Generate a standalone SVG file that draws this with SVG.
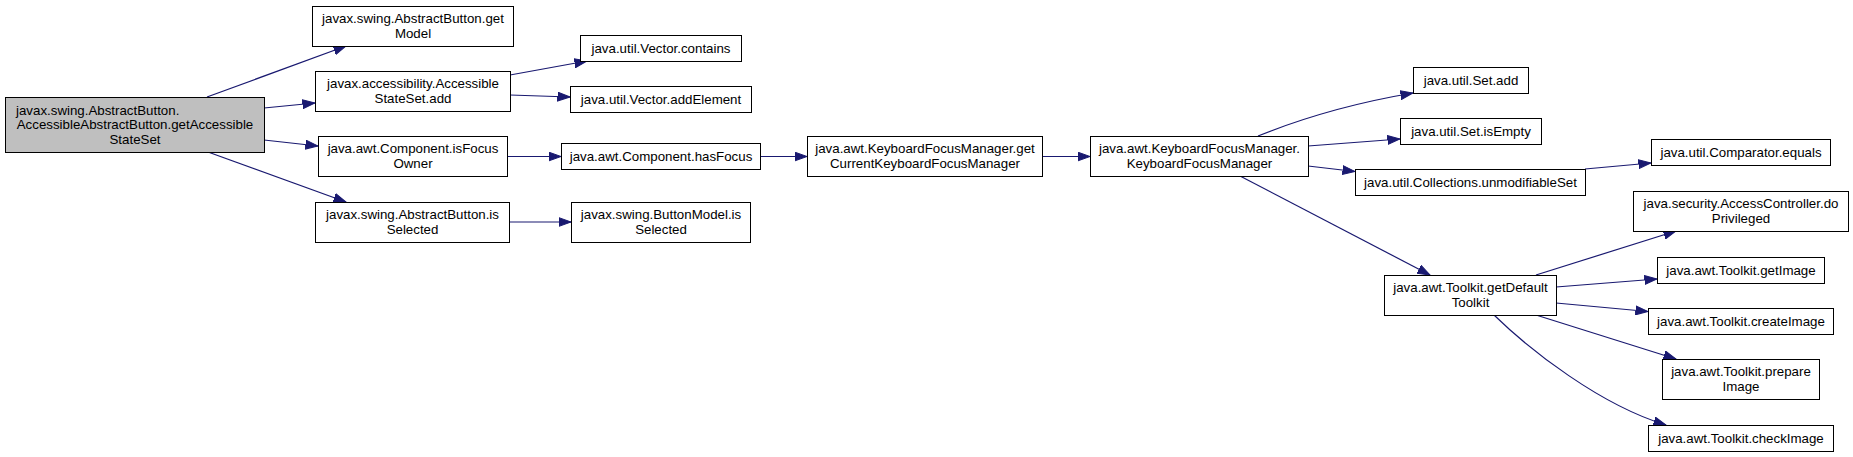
<svg xmlns="http://www.w3.org/2000/svg" width="1853" height="457" viewBox="0 0 1853 457">
<style>
.n rect{fill:#ffffff;stroke:#000000;stroke-width:1}
.n.root rect{fill:#bfbfbf}
.n text{font-family:"Liberation Sans",Arial,sans-serif;font-size:13.3px;fill:#000000;text-anchor:middle}
.e path{fill:none;stroke:#191970;stroke-width:1.2;marker-end:url(#arr)}
</style>
<defs>
<marker id="arr" markerWidth="13" markerHeight="10" refX="12.5" refY="5" orient="auto" markerUnits="userSpaceOnUse">
<path d="M0,0.5 L12.5,5 L0,9.5 z" fill="#191970" stroke="#191970" stroke-width="1"/>
</marker>
</defs>
<rect x="0" y="0" width="1853" height="457" fill="#ffffff"/>
<g id="edges" class="e">
<path d="M207,97 L346,46"/>
<path d="M264,108 L315,103"/>
<path d="M264,140 L318,146"/>
<path d="M208,152 L346,202"/>
<path d="M510,75 L587,61"/>
<path d="M510,95 L570,97"/>
<path d="M507,156.5 L561,156.5"/>
<path d="M760,156.5 L807,156.5"/>
<path d="M509,222 L571,222"/>
<path d="M1042,156.5 L1090,156.5"/>
<path d="M1258,136 C1305,117 1360,102 1413,93"/>
<path d="M1308,146 L1400,139"/>
<path d="M1308,166 L1355,171.5"/>
<path d="M1585,169 L1651,163"/>
<path d="M1240,176 L1430,275"/>
<path d="M1536,275 L1676,231"/>
<path d="M1556,287 L1657,279"/>
<path d="M1556,303 L1648,311.5"/>
<path d="M1536,315 L1676,359"/>
<path d="M1494,315 C1530,350 1600,405 1666,425"/>
</g>
<g id="n_root" class="n root">
<rect x="5.5" y="97.5" width="259" height="55"/>
<text x="16" y="114.5" style="text-anchor:start">javax.swing.AbstractButton.</text>
<text x="135" y="129">AccessibleAbstractButton.getAccessible</text>
<text x="135" y="143.5">StateSet</text>
</g>
<g id="n_getModel" class="n">
<rect x="312.5" y="6.5" width="201" height="40"/>
<text x="413" y="23">javax.swing.AbstractButton.get</text>
<text x="413" y="37.5">Model</text>
</g>
<g id="n_stateSetAdd" class="n">
<rect x="315.5" y="71.5" width="195" height="40"/>
<text x="413" y="88">javax.accessibility.Accessible</text>
<text x="413" y="102.5">StateSet.add</text>
</g>
<g id="n_isFocusOwner" class="n">
<rect x="318.5" y="136.5" width="189" height="40"/>
<text x="413" y="153">java.awt.Component.isFocus</text>
<text x="413" y="167.5">Owner</text>
</g>
<g id="n_abIsSelected" class="n">
<rect x="315.5" y="202.5" width="194" height="40"/>
<text x="412.5" y="219">javax.swing.AbstractButton.is</text>
<text x="412.5" y="233.5">Selected</text>
</g>
<g id="n_vecContains" class="n">
<rect x="580.5" y="35.5" width="161" height="26"/>
<text x="661" y="53">java.util.Vector.contains</text>
</g>
<g id="n_vecAddElement" class="n">
<rect x="570.5" y="86.5" width="181" height="26"/>
<text x="661" y="104">java.util.Vector.addElement</text>
</g>
<g id="n_hasFocus" class="n">
<rect x="561.5" y="143.5" width="199" height="26"/>
<text x="661" y="161">java.awt.Component.hasFocus</text>
</g>
<g id="n_bmIsSelected" class="n">
<rect x="571.5" y="202.5" width="179" height="40"/>
<text x="661" y="219">javax.swing.ButtonModel.is</text>
<text x="661" y="233.5">Selected</text>
</g>
<g id="n_getCurrentKFM" class="n">
<rect x="807.5" y="136.5" width="235" height="40"/>
<text x="925" y="153">java.awt.KeyboardFocusManager.get</text>
<text x="925" y="167.5">CurrentKeyboardFocusManager</text>
</g>
<g id="n_kfm" class="n">
<rect x="1090.5" y="136.5" width="218" height="40"/>
<text x="1199.5" y="153">java.awt.KeyboardFocusManager.</text>
<text x="1199.5" y="167.5">KeyboardFocusManager</text>
</g>
<g id="n_setAdd" class="n">
<rect x="1413.5" y="67.5" width="115" height="26"/>
<text x="1471" y="85">java.util.Set.add</text>
</g>
<g id="n_setIsEmpty" class="n">
<rect x="1400.5" y="118.5" width="141" height="26"/>
<text x="1471" y="136">java.util.Set.isEmpty</text>
</g>
<g id="n_unmodifiableSet" class="n">
<rect x="1355.5" y="169.5" width="230" height="26"/>
<text x="1470.5" y="187">java.util.Collections.unmodifiableSet</text>
</g>
<g id="n_compEquals" class="n">
<rect x="1651.5" y="139.5" width="179" height="26"/>
<text x="1741" y="157">java.util.Comparator.equals</text>
</g>
<g id="n_doPrivileged" class="n">
<rect x="1633.5" y="191.5" width="215" height="40"/>
<text x="1741" y="208">java.security.AccessController.do</text>
<text x="1741" y="222.5">Privileged</text>
</g>
<g id="n_getDefaultToolkit" class="n">
<rect x="1384.5" y="275.5" width="172" height="40"/>
<text x="1470.5" y="292">java.awt.Toolkit.getDefault</text>
<text x="1470.5" y="306.5">Toolkit</text>
</g>
<g id="n_getImage" class="n">
<rect x="1657.5" y="257.5" width="167" height="26"/>
<text x="1741" y="275">java.awt.Toolkit.getImage</text>
</g>
<g id="n_createImage" class="n">
<rect x="1648.5" y="308.5" width="185" height="26"/>
<text x="1741" y="326">java.awt.Toolkit.createImage</text>
</g>
<g id="n_prepareImage" class="n">
<rect x="1662.5" y="359.5" width="157" height="40"/>
<text x="1741" y="376">java.awt.Toolkit.prepare</text>
<text x="1741" y="390.5">Image</text>
</g>
<g id="n_checkImage" class="n">
<rect x="1648.5" y="425.5" width="185" height="26"/>
<text x="1741" y="443">java.awt.Toolkit.checkImage</text>
</g>
</svg>
